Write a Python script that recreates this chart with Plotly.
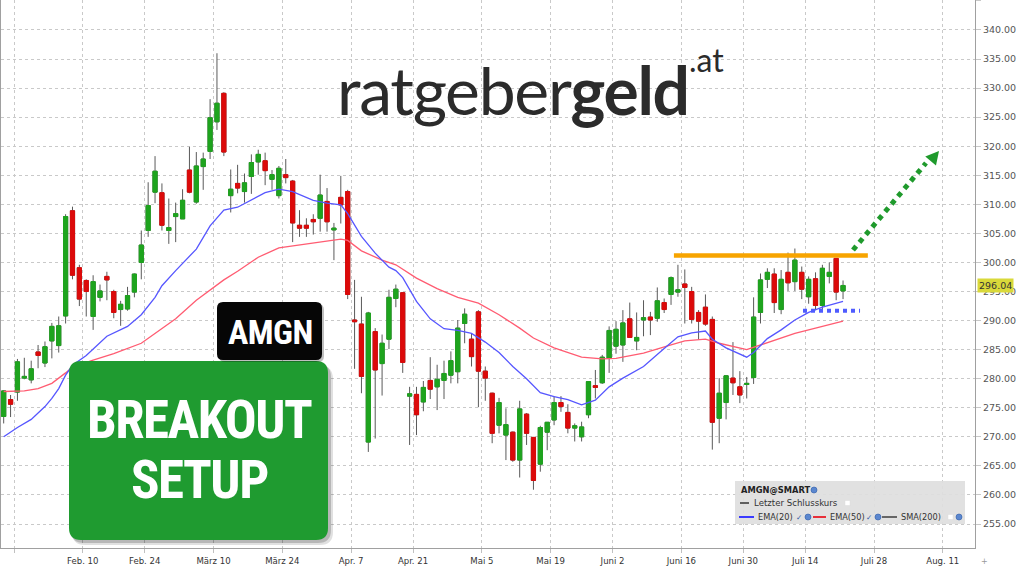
import pandas as pd
import plotly.graph_objects as go

# ---------------- data ----------------
HOLIDAYS = ["2025-02-17", "2025-04-18", "2025-05-26", "2025-06-19", "2025-07-04"]
trade_days = pd.bdate_range("2025-01-23", "2025-07-21", freq="C", holidays=HOLIDAYS)

open_p = [273.5, 276.4, 277.7, 280.1, 279.8, 284.6, 282.7, 286.5, 285.7, 290.8,
          308.9, 299.1, 296.9, 290.7, 294.0, 297.6, 295.0, 291.9, 292.0, 294.9,
          300.0, 305.5, 312.1, 312.0, 305.5, 307.9, 307.5, 315.9, 310.4, 316.5,
          319.1, 324.2, 329.1, 311.5, 313.6, 312.2, 314.8, 317.3, 317.5, 314.3,
          311.5, 315.1, 314.0, 306.4, 306.4, 307.4, 307.6, 310.5, 305.6, 311.2,
          312.2, 290.1, 289.4, 269.1, 288.1, 282.6, 286.8, 293.8, 294.8, 277.0,
          277.3, 276.0, 279.7, 278.6, 279.7, 280.6, 281.2, 289.5, 286.8, 291.5,
          281.3, 277.5, 272.0, 270.3, 270.8, 266.0, 273.9, 269.9, 265.3, 270.8,
          272.9, 275.9, 274.2, 271.5, 270.0, 273.8, 278.8, 279.3, 283.5, 285.6,
          285.8, 290.3, 286.5, 290.1, 290.6, 290.4, 293.1, 294.5, 294.9, 296.3,
          295.0, 291.4, 292.3, 290.2, 273.2, 275.9, 280.1, 278.6, 279.0, 280.2,
          291.4, 297.1, 298.0, 291.9, 298.3, 296.7, 298.3, 294.1, 297.2, 292.6,
          297.6, 300.7, 295.1]
high_p = [278.0, 277.2, 283.4, 283.6, 283.1, 285.8, 286.4, 289.6, 290.7, 308.3,
          309.6, 299.6, 297.1, 297.8, 296.2, 298.4, 295.3, 293.4, 295.8, 298.1,
          305.5, 313.8, 318.3, 313.6, 311.0, 310.3, 312.6, 319.9, 319.0, 318.9,
          328.1, 336.0, 329.3, 316.0, 316.8, 315.3, 318.6, 319.4, 318.9, 315.9,
          316.6, 317.8, 314.2, 309.0, 307.6, 308.3, 315.1, 312.8, 306.8, 314.9,
          312.5, 297.0, 294.1, 291.5, 288.7, 287.6, 295.3, 296.2, 294.9, 278.6,
          278.6, 279.6, 283.7, 282.4, 283.1, 284.7, 290.1, 292.1, 287.8, 291.8,
          282.1, 277.6, 276.7, 274.9, 270.9, 276.2, 274.1, 269.9, 271.9, 272.5,
          277.0, 277.0, 275.6, 272.3, 272.6, 279.6, 281.5, 284.1, 289.0, 289.9,
          291.8, 293.1, 291.4, 293.5, 291.5, 295.7, 293.8, 297.6, 299.6, 298.8,
          295.8, 291.8, 294.5, 290.7, 280.1, 280.6, 286.3, 281.3, 280.3, 294.0,
          298.1, 299.0, 299.0, 298.7, 301.7, 302.4, 299.3, 297.6, 298.3, 299.6,
          300.0, 300.7, 296.9]
low_p = [272.3, 273.4, 276.2, 279.9, 279.2, 281.8, 282.0, 283.5, 284.5, 289.5,
         297.1, 292.5, 290.7, 288.4, 293.3, 293.5, 290.4, 289.1, 291.7, 294.0,
         297.1, 304.4, 310.2, 305.5, 303.2, 303.5, 307.5, 311.9, 310.1, 312.5,
         317.8, 322.8, 318.3, 308.6, 311.9, 310.3, 311.8, 315.1, 313.3, 312.5,
         311.0, 313.6, 303.5, 304.4, 304.4, 304.8, 305.3, 305.3, 300.4, 306.7,
         293.7, 281.7, 277.5, 267.4, 269.7, 277.1, 285.1, 292.3, 281.0, 268.6,
         270.3, 274.4, 276.5, 274.6, 276.5, 279.2, 279.2, 286.1, 282.1, 275.1,
         276.2, 268.9, 270.6, 266.0, 265.7, 263.0, 268.6, 260.9, 264.0, 267.7,
         272.0, 274.3, 270.6, 269.2, 269.2, 273.2, 276.6, 279.1, 281.0, 284.3,
         282.9, 287.0, 284.9, 287.3, 287.5, 289.8, 291.3, 292.7, 294.1, 289.5,
         289.5, 286.7, 289.1, 267.8, 268.9, 273.0, 277.2, 275.8, 276.6, 279.1,
         289.5, 295.6, 291.3, 291.1, 295.1, 295.1, 293.7, 292.9, 291.8, 291.8,
         296.4, 293.5, 293.7]
close_p = [277.9, 275.6, 282.9, 280.4, 281.7, 284.0, 285.5, 289.0, 289.1, 307.9,
           297.8, 293.7, 295.0, 296.7, 295.1, 297.0, 291.4, 292.8, 294.3, 298.0,
           303.0, 309.8, 315.7, 306.4, 306.0, 308.4, 310.7, 312.1, 316.6, 317.8,
           324.9, 327.4, 319.0, 312.6, 312.8, 313.7, 317.2, 318.6, 315.8, 315.1,
           316.2, 314.6, 306.8, 305.9, 305.9, 307.0, 311.6, 307.0, 305.9, 309.9,
           294.5, 289.8, 280.4, 291.3, 281.5, 286.1, 294.0, 295.4, 282.8, 277.4,
           273.8, 278.5, 278.2, 279.9, 280.9, 283.1, 288.7, 291.1, 283.8, 281.3,
           280.1, 270.6, 275.9, 272.1, 266.0, 274.8, 270.6, 262.5, 271.6, 272.5,
           275.9, 275.2, 271.5, 271.9, 271.7, 279.5, 278.5, 283.7, 288.3, 288.5,
           289.6, 287.1, 287.1, 290.5, 290.1, 293.4, 291.9, 297.4, 295.3, 295.7,
           290.2, 289.9, 289.4, 272.5, 277.5, 280.5, 279.3, 277.2, 279.2, 290.6,
           297.0, 298.3, 293.1, 297.1, 296.5, 300.4, 295.4, 297.1, 292.6, 299.0,
           298.3, 294.9, 296.04]

ema20_dates = ["2025-01-23", "2025-01-27", "2025-01-29", "2025-01-31", "2025-02-03", "2025-02-04",
               "2025-02-05", "2025-02-06", "2025-02-10", "2025-02-13", "2025-02-19", "2025-02-21",
               "2025-02-25", "2025-02-26", "2025-02-28", "2025-03-05", "2025-03-07", "2025-03-11",
               "2025-03-13", "2025-03-17", "2025-03-19", "2025-03-21", "2025-03-25", "2025-03-28",
               "2025-04-01", "2025-04-03", "2025-04-04", "2025-04-08", "2025-04-10", "2025-04-14",
               "2025-04-15", "2025-04-16", "2025-04-21", "2025-04-23", "2025-04-25", "2025-04-29",
               "2025-05-01", "2025-05-05", "2025-05-07", "2025-05-09", "2025-05-13", "2025-05-15",
               "2025-05-19", "2025-05-21", "2025-05-23", "2025-05-28", "2025-05-30", "2025-06-03",
               "2025-06-06", "2025-06-11", "2025-06-13", "2025-06-17", "2025-06-20", "2025-06-23",
               "2025-06-25", "2025-06-30", "2025-07-01", "2025-07-03", "2025-07-08", "2025-07-10",
               "2025-07-14", "2025-07-16", "2025-07-18", "2025-07-21"]
ema20_vals = [270.0, 271.6, 273.0, 275.2, 276.6, 278.3,
              280.6, 282.3, 284.0, 287.3, 289.0, 291.0,
              294.0, 296.0, 298.6, 302.3, 306.3, 309.0,
              309.5, 310.7, 312.0, 312.6, 312.2, 310.7,
              310.2, 309.9, 308.4, 304.5, 301.6, 299.2,
              298.6, 297.4, 293.3, 290.3, 288.6, 288.3,
              287.8, 286.3, 284.5, 282.1, 280.0, 277.6,
              276.9, 276.4, 275.5, 276.3, 278.6, 280.1,
              282.1, 285.2, 287.2, 287.9, 288.2, 286.8,
              285.3, 283.7, 284.5, 286.9, 288.4, 290.1,
              291.4, 292.3, 293.0, 293.3]

ema50_dates = ["2025-01-23", "2025-01-28", "2025-01-30", "2025-02-03", "2025-02-05", "2025-02-06",
               "2025-02-11", "2025-02-14", "2025-02-21", "2025-02-26", "2025-02-28", "2025-03-05",
               "2025-03-07", "2025-03-11", "2025-03-13", "2025-03-18", "2025-03-21", "2025-03-26",
               "2025-03-31", "2025-04-03", "2025-04-04", "2025-04-08", "2025-04-11", "2025-04-15",
               "2025-04-21", "2025-04-24", "2025-04-29", "2025-05-02", "2025-05-07", "2025-05-12",
               "2025-05-14", "2025-05-19", "2025-05-23", "2025-05-29", "2025-06-02", "2025-06-06",
               "2025-06-12", "2025-06-16", "2025-06-20", "2025-06-24", "2025-06-30", "2025-07-03",
               "2025-07-10", "2025-07-15", "2025-07-21"]
ema50_vals = [277.8, 277.9, 278.3, 279.2, 281.0, 282.0,
              283.2, 284.3, 286.1, 288.6, 290.3, 293.5,
              295.3, 297.0, 298.5, 300.9, 302.5, 303.0,
              303.5, 304.0, 303.8, 302.0, 300.4, 299.6,
              297.3, 295.5, 294.0, 293.0, 291.0, 288.7,
              287.0, 285.3, 283.7, 283.4, 283.5, 284.4,
              285.8, 286.5, 286.8, 286.1, 285.0, 286.2,
              287.8, 288.7, 289.9]

tick_dates = ["2025-01-27", "2025-02-10", "2025-02-24", "2025-03-10", "2025-03-24", "2025-04-07",
              "2025-04-21", "2025-05-05", "2025-05-19", "2025-06-02", "2025-06-16", "2025-06-30",
              "2025-07-14", "2025-07-28", "2025-08-11"]
tick_text = ["", "Feb. 10", "Feb. 24", "März 10", "März 24", "Apr. 7", "Apr. 21", "Mai 5",
             "Mai 19", "Juni 2", "Juni 16", "Juni 30", "Juli 14", "Juli 28", "Aug. 11"]

resistance_level = 301.2
support_level = 291.7
support_start, support_end = "2025-07-11 16:20", "2025-07-23 23:15"
resistance_start, resistance_end = "2025-06-12 22:00", "2025-07-25 02:30"

# ---------------- styling ----------------
UP, DOWN, WICK = "#1ea41e", "#dc0a0a", "#5a5a5a"
GRID = "#c9c9c9"
PLOT_L, PLOT_R, PLOT_T, PLOT_B = 1, 975, 0, 548
W, H = 1024, 575


def fx(px):
    return (px - PLOT_L) / (PLOT_R - PLOT_L)


def fy(py):
    return (PLOT_B - py) / (PLOT_B - PLOT_T)


def rounded_rect(x0, y0, x1, y1, r):
    return (f"M {fx(x0 + r)},{fy(y0)} L {fx(x1 - r)},{fy(y0)} Q {fx(x1)},{fy(y0)} {fx(x1)},{fy(y0 + r)} "
            f"L {fx(x1)},{fy(y1 - r)} Q {fx(x1)},{fy(y1)} {fx(x1 - r)},{fy(y1)} "
            f"L {fx(x0 + r)},{fy(y1)} Q {fx(x0)},{fy(y1)} {fx(x0)},{fy(y1 - r)} "
            f"L {fx(x0)},{fy(y0 + r)} Q {fx(x0)},{fy(y0)} {fx(x0 + r)},{fy(y0)} Z")


x_candle = trade_days + pd.Timedelta(hours=12)
body_hi = [max(o, c) for o, c in zip(open_p, close_p)]
body_lo = [min(o, c) for o, c in zip(open_p, close_p)]

fig = go.Figure()
fig.add_trace(go.Scatter(x=pd.to_datetime(ema50_dates) + pd.Timedelta(hours=12), y=ema50_vals,
                         mode="lines", line=dict(color="#ff5c72", width=1.3), hoverinfo="skip"))
fig.add_trace(go.Scatter(x=pd.to_datetime(ema20_dates) + pd.Timedelta(hours=12), y=ema20_vals,
                         mode="lines", line=dict(color="#5656ff", width=1.3), hoverinfo="skip"))
fig.add_trace(go.Candlestick(x=x_candle, open=open_p, high=high_p, low=low_p, close=close_p,
                             increasing=dict(line=dict(color=WICK, width=1), fillcolor=WICK),
                             decreasing=dict(line=dict(color=WICK, width=1), fillcolor=WICK),
                             hoverinfo="skip"))
fig.add_trace(go.Candlestick(x=x_candle, open=open_p, high=body_hi, low=body_lo, close=close_p,
                             increasing=dict(line=dict(color=UP, width=1), fillcolor=UP),
                             decreasing=dict(line=dict(color=DOWN, width=1), fillcolor=DOWN),
                             hoverinfo="skip"))

shapes = []
# resistance and support levels
shapes.append(dict(type="line", xref="x", yref="y", x0=resistance_start, x1=resistance_end,
                   y0=resistance_level, y1=resistance_level, line=dict(color="#f7a400", width=4.5)))
shapes.append(dict(type="line", xref="x", yref="y", x0=support_start, x1=support_end,
                   y0=support_level, y1=support_level, line=dict(color="#4f5cff", width=4, dash="dot")))
# green dotted arrow
shapes.append(dict(type="line", xref="paper", yref="paper", x0=fx(853), y0=fy(250), x1=fx(926), y1=fy(163),
                   line=dict(color="#1f9a2c", width=5, dash="dot")))
tip = (939, 151)
ux, uy = 0.644, -0.765
bx, by = tip[0] - 13 * ux, tip[1] - 13 * uy
nx, ny = 0.765, 0.644
tri = (f"M {fx(tip[0])},{fy(tip[1])} L {fx(bx + 7 * nx)},{fy(by + 7 * ny)} "
       f"L {fx(bx - 7 * nx)},{fy(by - 7 * ny)} Z")
shapes.append(dict(type="path", xref="paper", yref="paper", path=tri, fillcolor="#1f9a2c",
                   line=dict(width=0)))
# green box with shadow
shapes.append(dict(type="path", xref="paper", yref="paper", path=rounded_rect(72, 366, 333, 545, 13),
                   fillcolor="rgba(0,0,0,0.12)", line=dict(width=0)))
shapes.append(dict(type="path", xref="paper", yref="paper", path=rounded_rect(71, 364, 331, 543, 13),
                   fillcolor="rgba(0,0,0,0.18)", line=dict(width=0)))
shapes.append(dict(type="path", xref="paper", yref="paper", path=rounded_rect(69, 361, 328, 540, 12),
                   fillcolor="#1f9b30", line=dict(width=0)))
# black AMGN box
shapes.append(dict(type="path", xref="paper", yref="paper", path=rounded_rect(219, 304, 324, 362, 6),
                   fillcolor="rgba(0,0,0,0.25)", line=dict(width=0)))
shapes.append(dict(type="path", xref="paper", yref="paper", path=rounded_rect(217, 302, 322, 360, 6),
                   fillcolor="#060606", line=dict(width=0)))
# legend panel
shapes.append(dict(type="rect", xref="paper", yref="paper", x0=fx(735), x1=fx(965), y0=fy(481), y1=fy(524),
                   fillcolor="rgba(222,222,222,0.92)", line=dict(width=0)))
shapes.append(dict(type="line", xref="paper", yref="paper", x0=fx(740), x1=fx(750), y0=fy(503), y1=fy(503),
                   line=dict(color="#333", width=1.5, dash="dash")))
shapes.append(dict(type="line", xref="paper", yref="paper", x0=fx(739), x1=fx(754), y0=fy(517), y1=fy(517),
                   line=dict(color="#3a3aff", width=2)))
shapes.append(dict(type="line", xref="paper", yref="paper", x0=fx(813), x1=fx(826), y0=fy(517), y1=fy(517),
                   line=dict(color="#e8303a", width=2)))
shapes.append(dict(type="line", xref="paper", yref="paper", x0=fx(882), x1=fx(897), y0=fy(517), y1=fy(517),
                   line=dict(color="#666", width=2)))
for sx, sy in ((845, 503), (948, 517)):
    shapes.append(dict(type="rect", xref="paper", yref="paper", x0=fx(sx), x1=fx(sx + 5), y0=fy(sy - 2.5),
                       y1=fy(sy + 2.5), fillcolor="white", line=dict(color="#ddd", width=0.5)))
for cx, cy in ((814, 490), (808, 517), (878, 517), (959, 517)):
    shapes.append(dict(type="circle", xref="paper", yref="paper", x0=fx(cx - 3), x1=fx(cx + 3),
                       y0=fy(cy - 3), y1=fy(cy + 3), fillcolor="#5b87cf", line=dict(color="#2f5ca8", width=0.6)))

ann = []
ann.append(dict(xref="paper", yref="paper", x=fx(335), y=fy(90), xanchor="left", yanchor="middle",
                text='<span style="letter-spacing:-1.3px">ratgeber<b>geld</b></span>', showarrow=False,
                font=dict(family="Lato", size=66, color="#2b2b2b")))
ann.append(dict(xref="paper", yref="paper", x=fx(687), y=fy(59), xanchor="left", yanchor="middle",
                text=".at", showarrow=False, font=dict(family="Lato", size=32, color="#2b2b2b")))
COND = "Roboto Condensed, Liberation Sans Narrow, Roboto, sans-serif"
ann.append(dict(xref="paper", yref="paper", x=fx(270), y=fy(332), xanchor="center", yanchor="middle",
                text='<span style="letter-spacing:-0.5px"><b>AMGN</b></span>', showarrow=False,
                font=dict(family=COND, size=34, color="white")))
ann.append(dict(xref="paper", yref="paper", x=fx(199), y=fy(420), xanchor="center", yanchor="middle",
                text='<span style="letter-spacing:-1.5px"><b>BREAKOUT</b></span>', showarrow=False,
                font=dict(family=COND, size=53, color="white")))
ann.append(dict(xref="paper", yref="paper", x=fx(199), y=fy(480), xanchor="center", yanchor="middle",
                text='<span style="letter-spacing:-1.5px"><b>SETUP</b></span>', showarrow=False,
                font=dict(family=COND, size=53, color="white")))
# last close tag
ann.append(dict(xref="paper", yref="y", x=1.0, y=close_p[-1], xanchor="left", yanchor="middle", xshift=2,
                text=f"{close_p[-1]:.2f}", showarrow=False, bgcolor="#d9d93a", borderpad=1,
                font=dict(family="DejaVu Sans, Verdana, sans-serif", size=9.5, color="#333")))
# legend texts
LF = "DejaVu Sans, Verdana, sans-serif"
ann.append(dict(xref="paper", yref="paper", x=fx(739), y=fy(490), xanchor="left", yanchor="middle",
                text="<b>AMGN@SMART</b>", showarrow=False, font=dict(family=LF, size=8.3, color="#222")))
ann.append(dict(xref="paper", yref="paper", x=fx(752), y=fy(503), xanchor="left", yanchor="middle",
                text="Letzter Schlusskurs", showarrow=False, font=dict(family=LF, size=8.6, color="#333")))
for tx, t in ((756, "EMA(20)"), (828, "EMA(50)"), (899, "SMA(200)")):
    ann.append(dict(xref="paper", yref="paper", x=fx(tx), y=fy(517), xanchor="left", yanchor="middle",
                    text=t, showarrow=False, font=dict(family=LF, size=8.2, color="#333")))
for tx in (799, 869):
    ann.append(dict(xref="paper", yref="paper", x=fx(tx), y=fy(517), xanchor="center", yanchor="middle",
                    text="✓", showarrow=False, font=dict(family=LF, size=7.5, color="#2f5ca8")))
ann.append(dict(xref="paper", yref="paper", x=fx(984), y=fy(561), xanchor="center", yanchor="middle",
                text="+", showarrow=False, font=dict(family=LF, size=8, color="#999")))

fig.update_layout(
    width=W, height=H, margin=dict(l=PLOT_L, r=W - PLOT_R, t=PLOT_T, b=H - PLOT_B),
    paper_bgcolor="white", plot_bgcolor="white", showlegend=False,
    boxgap=0.22, boxgroupgap=0.22,
    shapes=shapes, annotations=ann,
    xaxis=dict(type="date", range=["2025-01-23 02:38", "2025-08-15 16:19"],
               rangebreaks=[dict(bounds=["sat", "mon"]), dict(values=HOLIDAYS)],
               rangeslider=dict(visible=False), tickmode="array", tickvals=tick_dates, ticktext=tick_text,
               showgrid=True, gridcolor=GRID, griddash="dot", gridwidth=1,
               ticks="outside", ticklen=4, tickcolor="#c0c0c0", showline=True, linecolor="#a0a0a0",
               zeroline=False, tickfont=dict(family="DejaVu Sans Condensed, Roboto Condensed, sans-serif",
                                             size=9.5, color="#333")),
    yaxis=dict(side="right", range=[250.87, 345.16], tick0=0, dtick=5, tickformat=".2f",
               showgrid=True, gridcolor=GRID, griddash="dot", gridwidth=1,
               ticks="outside", ticklen=5, tickcolor="#c8c8c8", showline=True, linecolor="#a0a0a0",
               mirror=True, zeroline=False,
               tickfont=dict(family="DejaVu Sans, Verdana, sans-serif", size=9.5, color="#555")),
)

fig.write_html("out.html", config={"displayModeBar": False},
               post_script="document.body.style.margin='0px';document.body.style.overflow='hidden';")
